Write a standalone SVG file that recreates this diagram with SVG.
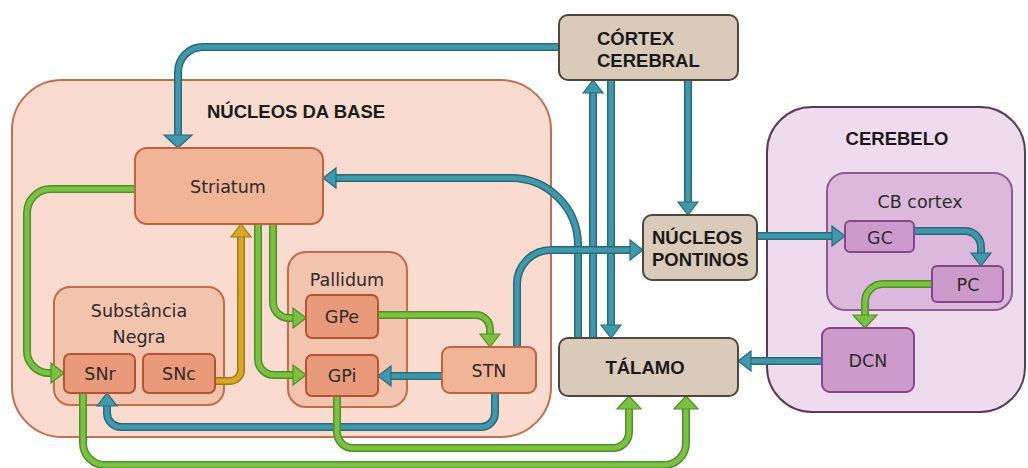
<svg xmlns="http://www.w3.org/2000/svg" xmlns:xlink="http://www.w3.org/1999/xlink" width="1028" height="468" viewBox="0 0 1028 468">
<style>
.reg{font-family:"DejaVu Sans","Noto Sans",sans-serif;font-size:17.5px;fill:#2b2b2b;text-anchor:middle}
.bold{font-family:"Liberation Sans",Arial,sans-serif;font-size:18.5px;font-weight:bold;fill:#1a1a1a}
.bg{fill:#f9dccf;stroke:#c0704e;stroke-width:2}
.cb{fill:#eedcee;stroke:#5b3b5b;stroke-width:2}
.cbc{fill:#dcb9dc;stroke:#8f5a8f;stroke-width:2}
.cbn{fill:#cc9bcc;stroke:#84488a;stroke-width:2}
.grp{fill:#f3c4ad;stroke:#c26c49;stroke-width:2}
.lt{fill:#f1b497;stroke:#bb6440;stroke-width:2}
.dk{fill:#e99a7a;stroke:#b55334;stroke-width:2}
.tan{fill:#d8cbb9;stroke:#4f463e;stroke-width:2}
.ob,.ib,.og,.ig,.oy,.iy{fill:none;stroke-linejoin:round}
.ob{stroke:#2a6a78;stroke-width:8}
.ib{stroke:#3f98ab;stroke-width:5;marker-end:url(#ab)}
.og{stroke:#4f8f2a;stroke-width:8}
.ig{stroke:#7cc242;stroke-width:5;marker-end:url(#ag)}
.oy{stroke:#9c7a1a;stroke-width:8}
.iy{stroke:#d8a726;stroke-width:5;marker-end:url(#ay)}
.big{marker-end:url(#abL)}
.wide{marker-end:url(#agW)}
</style>
<defs>
<marker id="ab" markerUnits="userSpaceOnUse" markerWidth="16" markerHeight="26" viewBox="-1 -12 16 24" refX="0" refY="0" orient="auto"><path d="M0,-10 L13,0 L0,10 z" fill="#3f98ab" stroke="#2a6a78" stroke-width="1.2"/></marker>
<marker id="abL" markerUnits="userSpaceOnUse" markerWidth="16" markerHeight="32" viewBox="-1 -16 16 32" refX="0" refY="0" orient="auto"><path d="M0,-14 L13,0 L0,14 z" fill="#3f98ab" stroke="#2a6a78" stroke-width="1.2"/></marker>
<marker id="ag" markerUnits="userSpaceOnUse" markerWidth="16" markerHeight="26" viewBox="-1 -12 16 24" refX="0" refY="0" orient="auto"><path d="M0,-10 L13,0 L0,10 z" fill="#7cc242" stroke="#4f8f2a" stroke-width="1.2"/></marker>
<marker id="agW" markerUnits="userSpaceOnUse" markerWidth="16" markerHeight="30" viewBox="-1 -14 16 28" refX="0" refY="0" orient="auto"><path d="M0,-12 L13,0 L0,12 z" fill="#7cc242" stroke="#4f8f2a" stroke-width="1.2"/></marker>
<marker id="ay" markerUnits="userSpaceOnUse" markerWidth="16" markerHeight="26" viewBox="-1 -12 16 24" refX="0" refY="0" orient="auto"><path d="M0,-10 L13,0 L0,10 z" fill="#d8a726" stroke="#9c7a1a" stroke-width="1.2"/></marker>
<path id="c1" d="M559 47 H203 A25 25 0 0 0 178 72 V135"/>
<path id="c2" d="M578 338 V245 A67 67 0 0 0 511 178 H336"/>
<path id="c3" d="M593 338 V93"/>
<path id="c4" d="M611 80 V325"/>
<path id="c5" d="M688 80 V202"/>
<path id="c6" d="M517 347 V284 A34 34 0 0 1 551 250 H630"/>
<path id="c7" d="M442 376 H391"/>
<path id="c8" d="M495 393 V413 A14 14 0 0 1 481 427 H121 A14 14 0 0 1 107 413 V406"/>
<path id="c9" d="M757 236 H832"/>
<path id="c10" d="M914 231 H965 A16 16 0 0 1 981 247 V253"/>
<path id="c11" d="M822 361 H751"/>
<path id="c12" d="M135 189 H51 A24 24 0 0 0 27 213 V351 A22 22 0 0 0 49 373 H51"/>
<path id="c13" d="M273 224 V302 A16 16 0 0 0 289 318 H293"/>
<path id="c14" d="M258 224 V359 A16 16 0 0 0 274 375 H293"/>
<path id="c15" d="M378 315 H476 A14 14 0 0 1 490 329 V334"/>
<path id="c16" d="M337 396 V432 A16 16 0 0 0 353 448 H613 A16 16 0 0 0 629 432 V409"/>
<path id="c17" d="M83 393 V443 A22 22 0 0 0 105 465 H664 A22 22 0 0 0 686 443 V409"/>
<path id="c18" d="M932 284 H883 A18 18 0 0 0 865 302 V315"/>
<path id="c19" d="M215 381 H230 A11 11 0 0 0 241 370 V237"/>
</defs>

<g id="nucleos-da-base">
<rect class="bg" x="12" y="80" width="539" height="357" rx="50"/>
<text class="bold" x="296" y="118" text-anchor="middle">NÚCLEOS DA BASE</text>
</g>
<g id="cerebelo">
<rect class="cb" x="767" y="107" width="258" height="305" rx="45"/>
<text class="bold" x="897" y="145" text-anchor="middle">CEREBELO</text>
</g>
<g id="cb-cortex">
<rect class="cbc" x="827" y="173" width="185" height="137" rx="18"/>
<text class="reg" x="920" y="208">CB cortex</text>
</g>
<g id="substancia-negra">
<rect class="grp" x="54" y="287" width="170" height="118" rx="16"/>
<text class="reg" x="139" y="317">Substância</text>
<text class="reg" x="139" y="343">Negra</text>
</g>
<g id="pallidum">
<rect class="grp" x="288" y="252" width="119" height="155" rx="18"/>
<text class="reg" x="347" y="286">Pallidum</text>
</g>

<g id="connectors">
<use xlink:href="#c3" class="ob"/><use xlink:href="#c3" class="ib"/>
<use xlink:href="#c4" class="ob"/><use xlink:href="#c4" class="ib"/>
<use xlink:href="#c5" class="ob"/><use xlink:href="#c5" class="ib"/>
<use xlink:href="#c2" class="ob"/><use xlink:href="#c2" class="ib"/>
<use xlink:href="#c6" class="ob"/><use xlink:href="#c6" class="ib"/>
<use xlink:href="#c1" class="ob"/><use xlink:href="#c1" class="ib big"/>
<use xlink:href="#c7" class="ob"/><use xlink:href="#c7" class="ib"/>
<use xlink:href="#c8" class="ob"/><use xlink:href="#c8" class="ib"/>
<use xlink:href="#c9" class="ob"/><use xlink:href="#c9" class="ib"/>
<use xlink:href="#c10" class="ob"/><use xlink:href="#c10" class="ib"/>
<use xlink:href="#c11" class="ob"/><use xlink:href="#c11" class="ib"/>
<use xlink:href="#c12" class="og"/><use xlink:href="#c12" class="ig"/>
<use xlink:href="#c13" class="og"/><use xlink:href="#c13" class="ig"/>
<use xlink:href="#c14" class="og"/><use xlink:href="#c14" class="ig"/>
<use xlink:href="#c15" class="og"/><use xlink:href="#c15" class="ig"/>
<use xlink:href="#c16" class="og"/><use xlink:href="#c16" class="ig wide"/>
<use xlink:href="#c17" class="og"/><use xlink:href="#c17" class="ig wide"/>
<use xlink:href="#c18" class="og"/><use xlink:href="#c18" class="ig wide"/>
<use xlink:href="#c19" class="oy"/><use xlink:href="#c19" class="iy"/>
</g>

<g id="striatum">
<rect class="lt" x="135" y="148" width="188" height="76" rx="12"/>
<text class="reg" x="228" y="193">Striatum</text>
</g>
<g id="snr">
<rect class="dk" x="64" y="354" width="71" height="39" rx="6"/>
<text class="reg" x="100" y="380">SNr</text>
</g>
<g id="snc">
<rect class="dk" x="143" y="354" width="72" height="39" rx="6"/>
<text class="reg" x="179" y="380">SNc</text>
</g>
<g id="gpe">
<rect class="dk" x="306" y="295" width="72" height="43" rx="6"/>
<text class="reg" x="342" y="323">GPe</text>
</g>
<g id="gpi">
<rect class="dk" x="306" y="355" width="72" height="41" rx="6"/>
<text class="reg" x="342" y="382">GPi</text>
</g>
<g id="stn">
<rect class="lt" x="442" y="347" width="94" height="46" rx="8"/>
<text class="reg" x="489" y="377">STN</text>
</g>
<g id="cortex-cerebral">
<rect class="tan" x="559" y="15" width="179" height="65" rx="9"/>
<text class="bold" x="597" y="45">CÓRTEX</text>
<text class="bold" x="597" y="67">CEREBRAL</text>
</g>
<g id="nucleos-pontinos">
<rect class="tan" x="643" y="215" width="114" height="65" rx="9"/>
<text class="bold" x="652" y="244">NÚCLEOS</text>
<text class="bold" x="652" y="266">PONTINOS</text>
</g>
<g id="talamo">
<rect class="tan" x="559" y="338" width="179" height="58" rx="9"/>
<text class="bold" x="645" y="374" text-anchor="middle">TÁLAMO</text>
</g>
<g id="gc">
<rect class="cbn" x="845" y="221" width="69" height="31" rx="5"/>
<text class="reg" x="880" y="244">GC</text>
</g>
<g id="pc">
<rect class="cbn" x="932" y="266" width="71" height="36" rx="5"/>
<text class="reg" x="968" y="291">PC</text>
</g>
<g id="dcn">
<rect class="cbn" x="822" y="328" width="92" height="64" rx="8"/>
<text class="reg" x="868" y="367">DCN</text>
</g>
</svg>
